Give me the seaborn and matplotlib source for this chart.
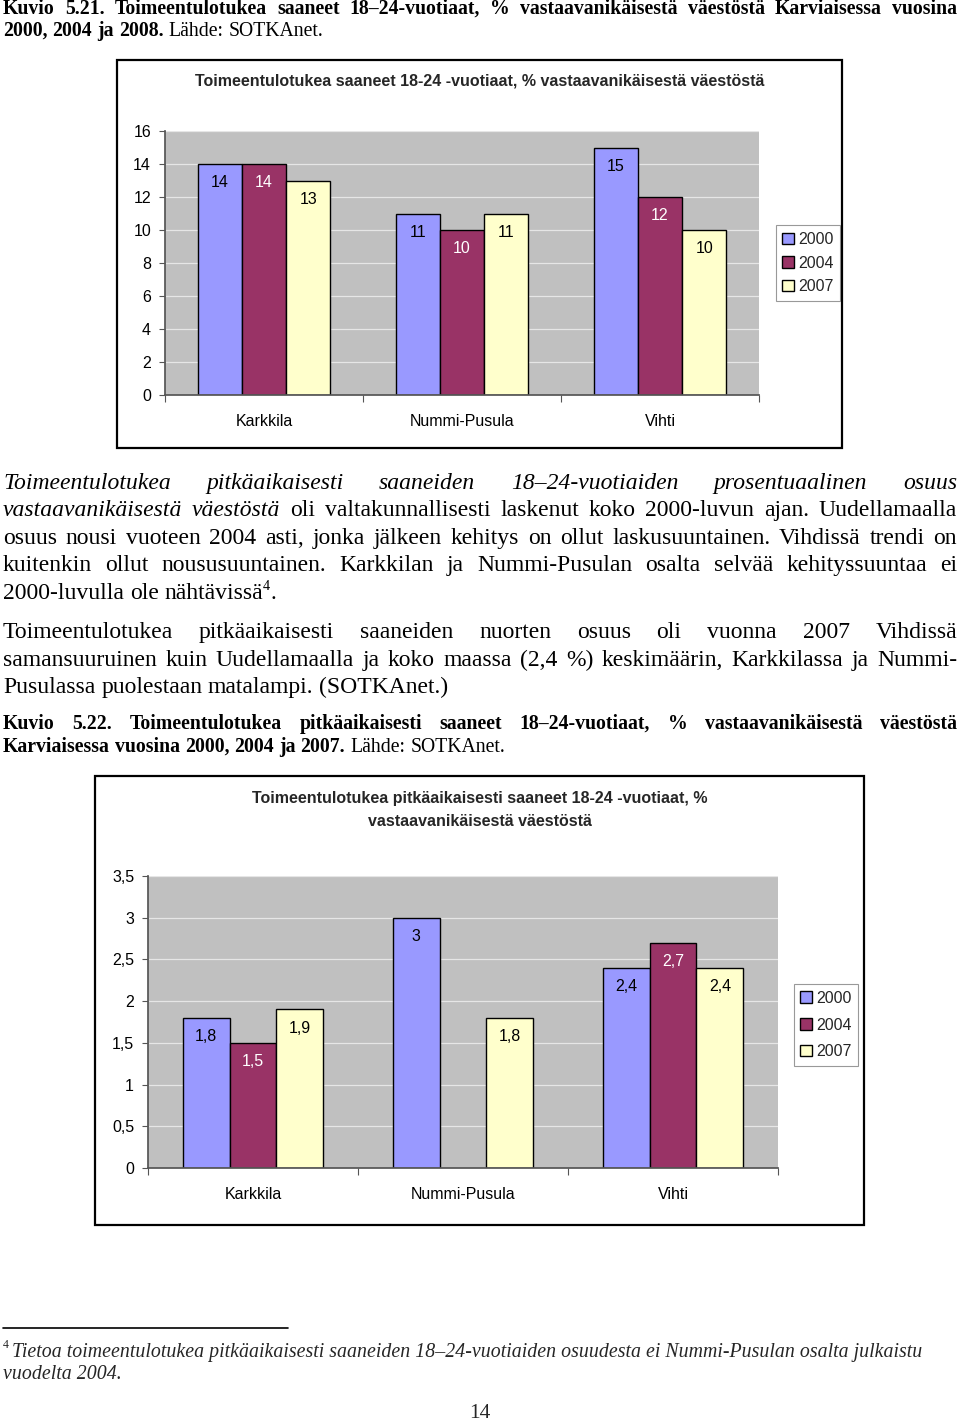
import numpy as np
import pandas as pd
import matplotlib
matplotlib.use("Agg")
import matplotlib.pyplot as plt
import seaborn as sns
from matplotlib.patches import Rectangle
from matplotlib.lines import Line2D
from matplotlib.ticker import FuncFormatter, FixedLocator

# ── Data ─────────────────────────────────────────────────────────────────────
KUNNAT = ["Karkkila", "Nummi-Pusula", "Vihti"]
VUODET = ["2000", "2004", "2007"]

# Kuvio 5.21 - toimeentulotukea saaneet 18-24 -vuotiaat, %
tuki_2000 = [14, 11, 15]
tuki_2004 = [14, 10, 12]
tuki_2007 = [13, 11, 10]

# Kuvio 5.22 - pitkäaikaisesti saaneet, % (Nummi-Pusula 2004 puuttuu)
pitka_2000 = [1.8, 3.0, 2.4]
pitka_2004 = [1.5, np.nan, 2.7]
pitka_2007 = [1.9, 1.8, 2.4]

COLORS = ["#9999FF", "#993366", "#FFFFCC"]
LABEL_COLORS = ["black", "white", "black"]

W, H = 960, 1425
SANS = ["Liberation Sans", "DejaVu Sans"]
SERIF = ["Liberation Serif", "DejaVu Serif"]

sns.set_theme(style="white")
plt.rcParams["font.family"] = SANS

fig = plt.figure(figsize=(W / 100, H / 100), dpi=100)
fig.patch.set_facecolor("white")


def long_df(a, b, c):
    rows = []
    for vuosi, vals in zip(VUODET, [a, b, c]):
        for kunta, v in zip(KUNNAT, vals):
            if not np.isnan(v):
                rows.append({"kunta": kunta, "vuosi": vuosi, "arvo": v})
    return pd.DataFrame(rows)


def fmt_fi(v):
    s = f"{v:g}"
    return s.replace(".", ",")


def px_rect(left, top, right, bottom):
    return [left / W, 1 - bottom / H, (right - left) / W, (bottom - top) / H]


def draw_chart(df, rect, ymax, ystep, title, title_y, frame, legend_center, pad,
               labelspacing):
    ax = fig.add_axes(px_rect(*rect))
    ax.set_facecolor("#C0C0C0")
    sns.barplot(data=df, x="kunta", y="arvo", hue="vuosi", order=KUNNAT,
                hue_order=VUODET, palette=COLORS, saturation=1, width=0.67,
                edgecolor="black", linewidth=1.0, ax=ax, errorbar=None)
    ax.set_xlim(-0.5, 2.5)
    ax.set_ylim(0, ymax)
    ax.set_yticks(np.arange(0, ymax + ystep / 2, ystep))
    ax.yaxis.set_major_formatter(FuncFormatter(lambda v, p: fmt_fi(round(v, 2))))
    ax.yaxis.grid(True, color="#E6E6E6", lw=0.9)
    ax.set_axisbelow(True)
    ax.set_xlabel("")
    ax.set_ylabel("")
    for s in ["top", "right"]:
        ax.spines[s].set_visible(False)
    ax.spines["left"].set_color("#555555")
    ax.spines["bottom"].set_color("#555555")
    ax.tick_params(axis="y", left=True, length=4, width=0.8, color="#555555",
                   pad=6, labelsize=11.5, labelcolor="black")
    ax.tick_params(axis="x", bottom=False, length=0, pad=14, labelsize=11.5,
                   labelcolor="black")
    ax.xaxis.set_minor_locator(FixedLocator([-0.5, 0.5, 1.5, 2.5]))
    ax.tick_params(axis="x", which="minor", bottom=True, length=5, width=0.8,
                   color="#555555")

    for cont, lc in zip(ax.containers, LABEL_COLORS):
        ax.bar_label(cont, labels=[fmt_fi(v) for v in cont.datavalues],
                     padding=pad, fontsize=11.5, color=lc)

    leg = ax.legend(loc="center left", frameon=True, fancybox=False,
                    edgecolor="#808080", fontsize=11.5, handlelength=0.7,
                    handleheight=0.7, handletextpad=0.3, borderpad=0.4,
                    labelspacing=labelspacing, borderaxespad=0,
                    bbox_to_anchor=(legend_center[0] / W, 1 - legend_center[1] / H),
                    bbox_transform=fig.transFigure)
    leg.get_frame().set_linewidth(0.8)

    for i, line in enumerate(title):
        fig.text(0.5, 1 - (title_y + i * 22) / H, line, ha="center", va="center",
                 fontsize=11.5, fontweight="bold", family=SANS)
    l, t, r, b = frame
    fig.patches.append(Rectangle((l / W, 1 - b / H), (r - l) / W, (b - t) / H,
                                 transform=fig.transFigure, fill=False,
                                 edgecolor="black", lw=1.6))
    return ax


df1 = long_df(tuki_2000, tuki_2004, tuki_2007)
draw_chart(df1, (165, 131, 759, 395), 16, 2,
           ["Toimeentulotukea saaneet 18-24 -vuotiaat, % vastaavanikäisestä väestöstä"],
           81, (117, 60, 842, 448), (776, 263), -19, 0.55)

df2 = long_df(pitka_2000, pitka_2004, pitka_2007)
draw_chart(df2, (148, 876, 778, 1168), 3.5, 0.5,
           ["Toimeentulotukea pitkäaikaisesti saaneet 18-24 -vuotiaat, %",
            "vastaavanikäisestä väestöstä"],
           799, (95, 776, 864, 1225), (794, 1025), -19, 0.75)

# ── Body text ────────────────────────────────────────────────────────────────
fig.canvas.draw()
renderer = fig.canvas.get_renderer()

STYLE = {"n": {}, "i": {"style": "italic"}, "b": {"weight": "bold"}}


def text_kw(st, size):
    kw = dict(family=SERIF, fontsize=size, color="black")
    if st == "s":
        kw["fontsize"] = size * 0.6
    else:
        kw.update(STYLE[st])
    return kw


def measure(txt, st, size):
    t = fig.text(0, 0, txt, **text_kw(st, size))
    w = t.get_window_extent(renderer).width
    t.remove()
    return w


def line(y, parts, size, justify=True, x0=3, x1=957):
    # parts: list of (text, style); words split on spaces, "\x00" joins to previous
    words = []
    for txt, st in parts:
        if st == "s" or txt.startswith("\x00"):
            words[-1].append((txt.lstrip("\x00"), st))
            continue
        for w in txt.split(" "):
            if w:
                words.append([(w, st)])
    widths = [sum(measure(t, s, size) for t, s in w) for w in words]
    space = measure("a a", "n", size) - measure("aa", "n", size)
    gap = space
    if justify and len(words) > 1:
        gap = max((x1 - x0 - sum(widths)) / (len(words) - 1), space * 0.5)
    x = x0
    for w, ww in zip(words, widths):
        xx = x
        for t, s in w:
            yy = y - size * 0.55 if s == "s" else y
            fig.text(xx / W, 1 - yy / H, t, va="baseline", ha="left",
                     **text_kw(s, size))
            xx += measure(t, s, size)
        x += ww + gap


CAP = 14.2
BODY = 17

line(14, [("Kuvio 5.21. Toimeentulotukea saaneet 18–24-vuotiaat, % vastaavanikäisestä "
           "väestöstä Karviaisessa vuosina", "b")], CAP)
line(36, [("2000, 2004 ja 2008.", "b"), ("Lähde: SOTKAnet.", "n")], CAP, justify=False)

line(489, [("Toimeentulotukea pitkäaikaisesti saaneiden 18–24-vuotiaiden "
            "prosentuaalinen osuus", "i")], BODY)
line(516, [("vastaavanikäisestä väestöstä", "i"),
           ("oli valtakunnallisesti laskenut koko 2000-luvun ajan. Uudellamaalla", "n")], BODY)
line(544, [("osuus nousi vuoteen 2004 asti, jonka jälkeen kehitys on ollut "
            "laskusuuntainen. Vihdissä trendi on", "n")], BODY)
line(571, [("kuitenkin ollut noususuuntainen. Karkkilan ja Nummi-Pusulan osalta "
            "selvää kehityssuuntaa ei", "n")], BODY)
line(599, [("2000-luvulla ole nähtävissä", "n"), ("4", "s"), ("\x00.", "n")], BODY,
     justify=False)
line(638, [("Toimeentulotukea pitkäaikaisesti saaneiden nuorten osuus oli vuonna "
            "2007 Vihdissä", "n")], BODY)
line(666, [("samansuuruinen kuin Uudellamaalla ja koko maassa (2,4 %) keskimäärin, "
            "Karkkilassa ja Nummi-", "n")], BODY)
line(693, [("Pusulassa puolestaan matalampi. (SOTKAnet.)", "n")], BODY, justify=False)

line(729, [("Kuvio 5.22. Toimeentulotukea pitkäaikaisesti saaneet 18–24-vuotiaat, % "
            "vastaavanikäisestä väestöstä", "b")], CAP)
line(752, [("Karviaisessa vuosina 2000, 2004 ja 2007.", "b"),
           ("Lähde: SOTKAnet.", "n")], CAP, justify=False)

# footnote
fig.add_artist(Line2D([3 / W, 288 / W], [1 - 1328 / H, 1 - 1328 / H],
                      color="black", lw=1.2, transform=fig.transFigure))
fig.text(3 / W, 1 - 1348 / H, "4", va="baseline", family=SERIF, fontsize=8.5)
fig.text(12 / W, 1 - 1357 / H,
         "Tietoa toimeentulotukea pitkäaikaisesti saaneiden 18–24-vuotiaiden osuudesta "
         "ei Nummi-Pusulan osalta julkaistu",
         va="baseline", family=SERIF, style="italic", fontsize=14.3)
fig.text(3 / W, 1 - 1379 / H, "vuodelta 2004.", va="baseline", family=SERIF,
         style="italic", fontsize=14.3)
fig.text(480 / W, 1 - 1413 / H, "14", ha="center", va="center", family=SERIF,
         fontsize=15.5)

fig.savefig("out.png", dpi=100)
